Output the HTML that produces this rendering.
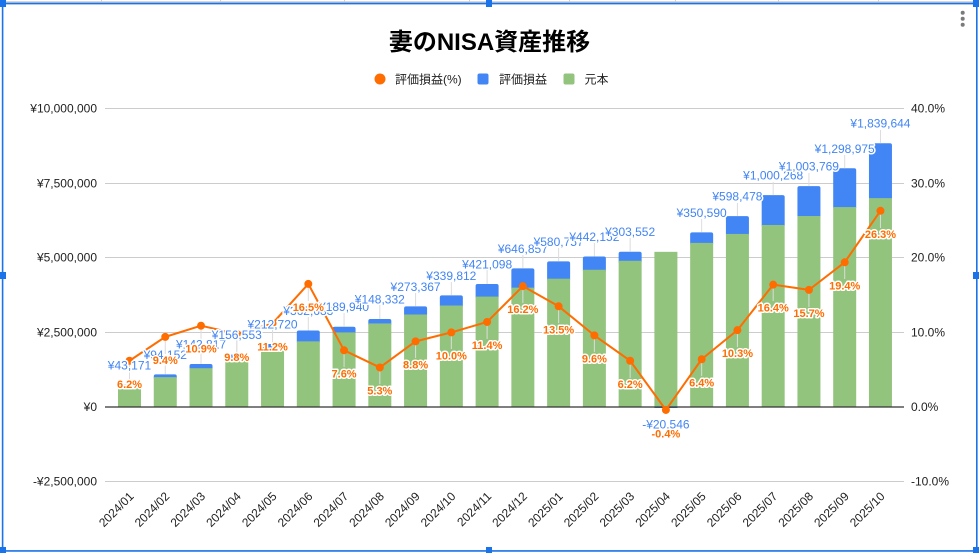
<!DOCTYPE html>
<html>
<head>
<meta charset="utf-8">
<style>
  html,body{margin:0;padding:0;background:#fff;}
  svg{display:block;}
  .ax{font-family:"Liberation Sans","Noto Sans CJK JP",sans-serif;font-size:12px;fill:#222;}
  .bl{font-family:"Liberation Sans",sans-serif;font-size:12px;fill:#4285f4;stroke:#fff;stroke-width:3px;stroke-linejoin:round;paint-order:stroke;}
  .or{font-family:"Liberation Sans",sans-serif;font-size:11px;font-weight:bold;fill:#ff6d01;stroke:#fff;stroke-width:3px;stroke-linejoin:round;paint-order:stroke;}
</style>
</head>
<body>
<svg width="979" height="553" viewBox="0 0 979 553" xmlns="http://www.w3.org/2000/svg">
  <rect x="0" y="0" width="979" height="553" fill="#fff"/>

  <!-- spreadsheet bits outside frame -->
  <line x1="0" y1="2" x2="979" y2="2" stroke="#b0b0b0" stroke-width="1"/>
  <g stroke="#d0d0d0" stroke-width="1">
    <line x1="101.5" y1="0" x2="101.5" y2="2"/>
    <line x1="220.5" y1="0" x2="220.5" y2="2"/>
    <line x1="344.5" y1="0" x2="344.5" y2="2"/>
    <line x1="469.5" y1="0" x2="469.5" y2="2"/>
    <line x1="569.5" y1="0" x2="569.5" y2="2"/>
    <line x1="675.5" y1="0" x2="675.5" y2="2"/>
    <line x1="778.5" y1="0" x2="778.5" y2="2"/>
    <line x1="878.5" y1="0" x2="878.5" y2="2"/>
  </g>

  <!-- title -->
  <text x="489.5" y="50" text-anchor="middle" font-family="'Liberation Sans','Noto Sans CJK JP',sans-serif" font-size="24" font-weight="bold" fill="#000">妻のNISA資産推移</text>

  <!-- legend -->
  <circle cx="380" cy="79" r="5.5" fill="#ff6d01"/>
  <text class="ax" x="395" y="83.5">評価損益(%)</text>
  <rect x="477.5" y="73.5" width="11" height="11" rx="2" fill="#4285f4"/>
  <text class="ax" x="499" y="83.5">評価損益</text>
  <rect x="563.5" y="73.5" width="11" height="11" rx="2" fill="#93c47d"/>
  <text class="ax" x="584.5" y="83.5">元本</text>

  <!-- gridlines -->
  <g stroke="#cccccc" stroke-width="1">
    <line x1="105" y1="108.5" x2="904" y2="108.5"/>
    <line x1="105" y1="183.5" x2="904" y2="183.5"/>
    <line x1="105" y1="257.5" x2="904" y2="257.5"/>
    <line x1="105" y1="332.5" x2="904" y2="332.5"/>
    <line x1="105" y1="481.5" x2="904" y2="481.5"/>
  </g>

  <!-- left axis labels -->
  <g class="ax" text-anchor="end">
    <text x="97" y="112.5">¥10,000,000</text>
    <text x="97" y="187.5">¥7,500,000</text>
    <text x="97" y="261.5">¥5,000,000</text>
    <text x="97" y="336.5">¥2,500,000</text>
    <text x="97" y="411">¥0</text>
    <text x="97" y="485.5">-¥2,500,000</text>
  </g>
  <!-- right axis labels -->
  <g class="ax">
    <text x="911" y="112.5">40.0%</text>
    <text x="911" y="187.5">30.0%</text>
    <text x="911" y="261.5">20.0%</text>
    <text x="911" y="336.5">10.0%</text>
    <text x="911" y="411">0.0%</text>
    <text x="911" y="485.5">-10.0%</text>
  </g>

  <!-- blue bars (gain) -->
  <g fill="#4285f4">
    <rect x="118.0" y="384.8" width="23" height="4" rx="2"/>
    <rect x="153.76" y="374.35" width="23" height="5" rx="2"/>
    <rect x="189.52" y="363.95" width="23" height="7" rx="2"/>
    <rect x="225.28" y="354.58" width="23" height="7" rx="2"/>
    <rect x="261.04" y="343.96" width="23" height="9" rx="2"/>
    <rect x="296.80" y="330.53" width="23" height="13" rx="2"/>
    <rect x="332.56" y="326.73" width="23" height="8" rx="2"/>
    <rect x="368.32" y="319.02" width="23" height="7" rx="2"/>
    <rect x="404.08" y="306.34" width="23" height="10" rx="2"/>
    <rect x="439.84" y="295.40" width="23" height="12" rx="2"/>
    <rect x="475.60" y="284.03" width="23" height="15" rx="2"/>
    <rect x="511.36" y="268.34" width="23" height="22" rx="2"/>
    <rect x="547.12" y="261.36" width="23" height="20" rx="2"/>
    <rect x="582.88" y="256.54" width="23" height="16" rx="2"/>
    <rect x="618.64" y="251.73" width="23" height="12" rx="2"/>
    <rect x="654.40" y="407" width="23" height="1"/>
    <rect x="690.16" y="232.42" width="23" height="13" rx="2"/>
    <rect x="725.92" y="216.07" width="23" height="20" rx="2"/>
    <rect x="761.68" y="195.13" width="23" height="32" rx="2"/>
    <rect x="797.44" y="186.07" width="23" height="32" rx="2"/>
    <rect x="833.20" y="168.31" width="23" height="41" rx="2"/>
    <rect x="868.96" y="143.22" width="23" height="57" rx="2"/>
  </g>
  <!-- green bars (principal) -->
  <g fill="#93c47d">
    <rect x="118.0" y="386.1" width="23" height="20.9"/>
    <rect x="153.76" y="377.16" width="23" height="29.84"/>
    <rect x="189.52" y="368.21" width="23" height="38.79"/>
    <rect x="225.28" y="359.26" width="23" height="47.74"/>
    <rect x="261.04" y="350.30" width="23" height="56.70"/>
    <rect x="296.80" y="341.35" width="23" height="65.65"/>
    <rect x="332.56" y="332.40" width="23" height="74.60"/>
    <rect x="368.32" y="323.45" width="23" height="83.55"/>
    <rect x="404.08" y="314.50" width="23" height="92.50"/>
    <rect x="439.84" y="305.54" width="23" height="101.46"/>
    <rect x="475.60" y="296.59" width="23" height="110.41"/>
    <rect x="511.36" y="287.64" width="23" height="119.36"/>
    <rect x="547.12" y="278.69" width="23" height="128.31"/>
    <rect x="582.88" y="269.74" width="23" height="137.26"/>
    <rect x="618.64" y="260.78" width="23" height="146.22"/>
    <rect x="654.40" y="251.83" width="23" height="155.17"/>
    <rect x="690.16" y="242.88" width="23" height="164.12"/>
    <rect x="725.92" y="233.93" width="23" height="173.07"/>
    <rect x="761.68" y="224.98" width="23" height="182.02"/>
    <rect x="797.44" y="216.02" width="23" height="190.98"/>
    <rect x="833.20" y="207.07" width="23" height="199.93"/>
    <rect x="868.96" y="198.12" width="23" height="208.88"/>
  </g>

  <!-- zero line -->
  <line x1="105" y1="407" x2="904" y2="407" stroke="#333" stroke-width="1.2"/>

  <!-- stems -->
  <g stroke="#dcdcdc" stroke-width="1">
    <line x1="129.5" y1="384.8" x2="129.5" y2="371"/><line x1="129.5" y1="361" x2="129.5" y2="378"/>
    <line x1="165.26" y1="374.35" x2="165.26" y2="361"/><line x1="165.26" y1="337" x2="165.26" y2="354"/>
    <line x1="201.02" y1="363.95" x2="201.02" y2="350"/><line x1="201.02" y1="326" x2="201.02" y2="343"/>
    <line x1="236.78" y1="354.58" x2="236.78" y2="341"/><line x1="236.78" y1="334" x2="236.78" y2="351"/>
    <line x1="272.54" y1="343.96" x2="272.54" y2="330"/><line x1="272.54" y1="323.5" x2="272.54" y2="340"/>
    <line x1="308.30" y1="330.53" x2="308.30" y2="317"/><line x1="308.30" y1="284" x2="308.30" y2="301"/>
    <line x1="344.06" y1="326.73" x2="344.06" y2="313"/><line x1="344.06" y1="350.3" x2="344.06" y2="367"/>
    <line x1="379.82" y1="319.02" x2="379.82" y2="305"/><line x1="379.82" y1="367.5" x2="379.82" y2="384"/>
    <line x1="415.58" y1="306.34" x2="415.58" y2="293"/><line x1="415.58" y1="341.4" x2="415.58" y2="358"/>
    <line x1="451.34" y1="295.4" x2="451.34" y2="282"/><line x1="451.34" y1="332.4" x2="451.34" y2="349"/>
    <line x1="487.10" y1="284.03" x2="487.10" y2="270"/><line x1="487.10" y1="322" x2="487.10" y2="339"/>
    <line x1="522.86" y1="268.34" x2="522.86" y2="255"/><line x1="522.86" y1="286" x2="522.86" y2="303"/>
    <line x1="558.62" y1="261.36" x2="558.62" y2="248"/><line x1="558.62" y1="306.3" x2="558.62" y2="323"/>
    <line x1="594.38" y1="256.54" x2="594.38" y2="243"/><line x1="594.38" y1="335.4" x2="594.38" y2="352"/>
    <line x1="630.14" y1="251.73" x2="630.14" y2="238"/><line x1="630.14" y1="360.8" x2="630.14" y2="378"/>
    <line x1="701.66" y1="232.42" x2="701.66" y2="219"/><line x1="701.66" y1="359.3" x2="701.66" y2="376"/>
    <line x1="737.42" y1="216.07" x2="737.42" y2="203"/><line x1="737.42" y1="330.2" x2="737.42" y2="347"/>
    <line x1="773.18" y1="195.13" x2="773.18" y2="182"/><line x1="773.18" y1="284.7" x2="773.18" y2="301"/>
    <line x1="808.94" y1="186.07" x2="808.94" y2="173"/><line x1="808.94" y1="289.9" x2="808.94" y2="307"/>
    <line x1="844.70" y1="168.31" x2="844.70" y2="155"/><line x1="844.70" y1="262.3" x2="844.70" y2="279"/>
    <line x1="880.46" y1="143.22" x2="880.46" y2="130"/><line x1="880.46" y1="210.8" x2="880.46" y2="228"/>
  </g>

  <!-- line series -->
  <polyline fill="none" stroke="#ff6d01" stroke-width="2" stroke-linejoin="round"
    points="129.5,360.75 165.26,336.88 201.02,325.69 236.78,333.89 272.54,323.45 308.30,283.91 344.06,350.30 379.82,367.46 415.58,341.35 451.34,332.40 487.10,321.96 522.86,286.15 558.62,306.29 594.38,335.38 630.14,360.75 665.90,409.98 701.66,359.26 737.42,330.16 773.18,284.66 808.94,289.88 844.70,262.28 880.46,210.80"/>
  <g fill="#ff6d01">
    <circle cx="129.5" cy="360.75" r="4"/>
    <circle cx="165.26" cy="336.88" r="4"/>
    <circle cx="201.02" cy="325.69" r="4"/>
    <circle cx="236.78" cy="333.89" r="4"/>
    <circle cx="272.54" cy="323.45" r="4"/>
    <circle cx="308.30" cy="283.91" r="4"/>
    <circle cx="344.06" cy="350.30" r="4"/>
    <circle cx="379.82" cy="367.46" r="4"/>
    <circle cx="415.58" cy="341.35" r="4"/>
    <circle cx="451.34" cy="332.40" r="4"/>
    <circle cx="487.10" cy="321.96" r="4"/>
    <circle cx="522.86" cy="286.15" r="4"/>
    <circle cx="558.62" cy="306.29" r="4"/>
    <circle cx="594.38" cy="335.38" r="4"/>
    <circle cx="630.14" cy="360.75" r="4"/>
    <circle cx="665.90" cy="409.98" r="4"/>
    <circle cx="701.66" cy="359.26" r="4"/>
    <circle cx="737.42" cy="330.16" r="4"/>
    <circle cx="773.18" cy="284.66" r="4"/>
    <circle cx="808.94" cy="289.88" r="4"/>
    <circle cx="844.70" cy="262.28" r="4"/>
    <circle cx="880.46" cy="210.80" r="4"/>
  </g>

  <!-- blue value labels -->
  <g class="bl" text-anchor="middle">
    <text x="129.5" y="369.3">¥43,171</text>
    <text x="165.26" y="358.9">¥94,152</text>
    <text x="201.02" y="348.5">¥142,817</text>
    <text x="236.78" y="339.1">¥156,553</text>
    <text x="272.54" y="328.5">¥212,720</text>
    <text x="308.30" y="315.0">¥362,683</text>
    <text x="344.06" y="311.2">¥189,940</text>
    <text x="379.82" y="303.5">¥148,332</text>
    <text x="415.58" y="290.8">¥273,367</text>
    <text x="451.34" y="279.9">¥339,812</text>
    <text x="487.10" y="268.5">¥421,098</text>
    <text x="522.86" y="252.8">¥646,857</text>
    <text x="558.62" y="245.9">¥580,757</text>
    <text x="594.38" y="241.0">¥442,152</text>
    <text x="630.14" y="236.2">¥303,552</text>
    <text x="665.90" y="428.5">-¥20,546</text>
    <text x="701.66" y="216.9">¥350,590</text>
    <text x="737.42" y="200.6">¥598,478</text>
    <text x="773.18" y="179.6">¥1,000,268</text>
    <text x="808.94" y="170.6">¥1,003,769</text>
    <text x="844.70" y="152.8">¥1,298,975</text>
    <text x="880.46" y="127.7">¥1,839,644</text>
  </g>

  <!-- percent labels -->
  <g class="or" text-anchor="middle">
    <text x="129.5" y="387.8">6.2%</text>
    <text x="165.26" y="363.9">9.4%</text>
    <text x="201.02" y="352.7">10.9%</text>
    <text x="236.78" y="360.9">9.8%</text>
    <text x="272.54" y="350.5">11.2%</text>
    <text x="308.30" y="310.9">16.5%</text>
    <text x="344.06" y="377.3">7.6%</text>
    <text x="379.82" y="394.5">5.3%</text>
    <text x="415.58" y="368.4">8.8%</text>
    <text x="451.34" y="359.4">10.0%</text>
    <text x="487.10" y="349.0">11.4%</text>
    <text x="522.86" y="313.2">16.2%</text>
    <text x="558.62" y="333.3">13.5%</text>
    <text x="594.38" y="362.4">9.6%</text>
    <text x="630.14" y="387.8">6.2%</text>
    <text x="665.90" y="437.5">-0.4%</text>
    <text x="701.66" y="386.3">6.4%</text>
    <text x="737.42" y="357.2">10.3%</text>
    <text x="773.18" y="311.7">16.4%</text>
    <text x="808.94" y="316.9">15.7%</text>
    <text x="844.70" y="289.3">19.4%</text>
    <text x="880.46" y="237.8">26.3%</text>
  </g>

  <!-- x-axis labels -->
  <g class="ax" text-anchor="end">
    <text transform="translate(134.5,497) rotate(-45)">2024/01</text>
    <text transform="translate(170.26,497) rotate(-45)">2024/02</text>
    <text transform="translate(206.02,497) rotate(-45)">2024/03</text>
    <text transform="translate(241.78,497) rotate(-45)">2024/04</text>
    <text transform="translate(277.54,497) rotate(-45)">2024/05</text>
    <text transform="translate(313.30,497) rotate(-45)">2024/06</text>
    <text transform="translate(349.06,497) rotate(-45)">2024/07</text>
    <text transform="translate(384.82,497) rotate(-45)">2024/08</text>
    <text transform="translate(420.58,497) rotate(-45)">2024/09</text>
    <text transform="translate(456.34,497) rotate(-45)">2024/10</text>
    <text transform="translate(492.10,497) rotate(-45)">2024/11</text>
    <text transform="translate(527.86,497) rotate(-45)">2024/12</text>
    <text transform="translate(563.62,497) rotate(-45)">2025/01</text>
    <text transform="translate(599.38,497) rotate(-45)">2025/02</text>
    <text transform="translate(635.14,497) rotate(-45)">2025/03</text>
    <text transform="translate(670.90,497) rotate(-45)">2025/04</text>
    <text transform="translate(706.66,497) rotate(-45)">2025/05</text>
    <text transform="translate(742.42,497) rotate(-45)">2025/06</text>
    <text transform="translate(778.18,497) rotate(-45)">2025/07</text>
    <text transform="translate(813.94,497) rotate(-45)">2025/08</text>
    <text transform="translate(849.70,497) rotate(-45)">2025/09</text>
    <text transform="translate(885.46,497) rotate(-45)">2025/10</text>
  </g>

  <!-- menu dots -->
  <g fill="#7a7a7a">
    <circle cx="962.7" cy="12.7" r="2"/>
    <circle cx="962.7" cy="18.7" r="2"/>
    <circle cx="962.7" cy="24.7" r="2"/>
  </g>

  <!-- selection frame -->
  <g stroke="#1a73e8" stroke-width="1.6" fill="none">
    <line x1="0" y1="3.6" x2="979" y2="3.6"/>
    <line x1="2.6" y1="0" x2="2.6" y2="553"/>
    <line x1="976.8" y1="0" x2="976.8" y2="553"/>
    <line x1="0" y1="550.9" x2="979" y2="550.9"/>
  </g>
  <g fill="#1a73e8">
    <rect x="0" y="0" width="6" height="7"/>
    <rect x="486" y="0" width="6" height="7"/>
    <rect x="973" y="0" width="6" height="7"/>
    <rect x="0" y="272" width="6" height="7"/>
    <rect x="973" y="272" width="6" height="7"/>
    <rect x="0" y="547" width="6" height="6"/>
    <rect x="486" y="547" width="6" height="6"/>
    <rect x="973" y="547" width="6" height="6"/>
  </g>
</svg>
</body>
</html>
